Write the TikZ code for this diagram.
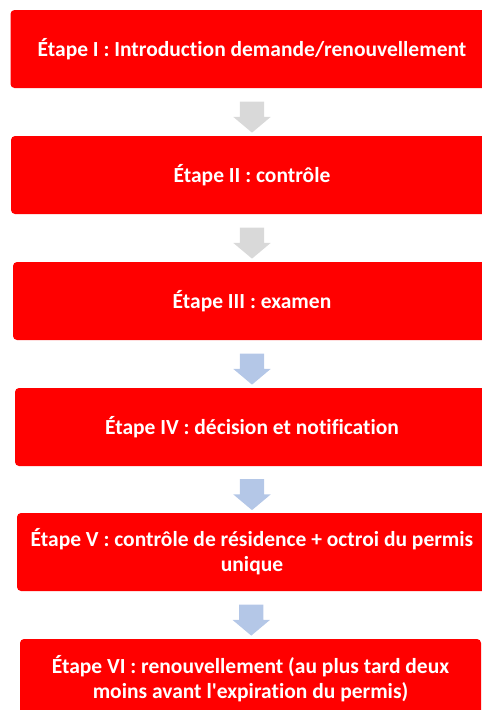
\documentclass[tikz,border=0pt]{standalone}
\usepackage{fontspec}
\setmainfont{Carlito}[Ligatures={NoCommon}]
\usetikzlibrary{shapes.arrows,calc}
\definecolor{cff0000}{RGB}{255,0,0}
\definecolor{cd9d9d9}{RGB}{217,217,217}
\definecolor{cb4c7e7}{RGB}{180,199,231}

\begin{document}
\begin{tikzpicture}[y=1pt, x=1pt, yscale=-1, inner sep=0pt, outer sep=0pt,
  stepbox/.style={fill=cff0000, rounded corners=4pt, anchor=north west,
    minimum height=78pt, align=center, text=white,
    font=\fontsize{21.5}{25}\selectfont\bfseries},
  blockarrow/.style={single arrow, shape border rotate=270,
    inner xsep=12pt, inner ysep=0pt,
    minimum height=31pt, minimum width=37pt,
    single arrow head extend=6.5pt, single arrow tip angle=100}]
\useasboundingbox (0,0) rectangle (482,710);
  % steps
  \node[stepbox, minimum width=483pt] (step1) at (10.5,10)
    {\'Etape I : Introduction demande/renouvellement};
  \node[stepbox, minimum width=482pt] (step2) at (11,136)
    {\'Etape II : contr\^ole};
  \node[stepbox, minimum width=478pt] (step3) at (13,262)
    {\'Etape III : examen};
  \node[stepbox, minimum width=474pt] (step4) at (15,388)
    {\'Etape IV : d\'ecision et notification};
  \node[stepbox, minimum width=470pt] (step5) at (17,513)
    {\'Etape V : contr\^ole de r\'esidence + octroi du permis\\ unique};
  \node[stepbox, minimum width=461pt, minimum height=80pt] (step6) at (20,639)
    {\'Etape VI : renouvellement (au plus tard deux\\ moins avant l\textquotesingle expiration du permis)};
  % arrows
  \node[blockarrow, fill=cd9d9d9] (arr1) at ($(step1.south)!0.5!(step2.north)$) {};
  \node[blockarrow, fill=cd9d9d9] (arr2) at ($(step2.south)!0.5!(step3.north)$) {};
  \node[blockarrow, fill=cb4c7e7] (arr3) at ($(step3.south)!0.5!(step4.north)$) {};
  \node[blockarrow, fill=cb4c7e7] (arr4) at ($(step4.south)!0.5!(step5.north)$) {};
  \node[blockarrow, fill=cb4c7e7] (arr5) at ($(step5.south)!0.5!(step6.north)$) {};
\end{tikzpicture}
\end{document}
